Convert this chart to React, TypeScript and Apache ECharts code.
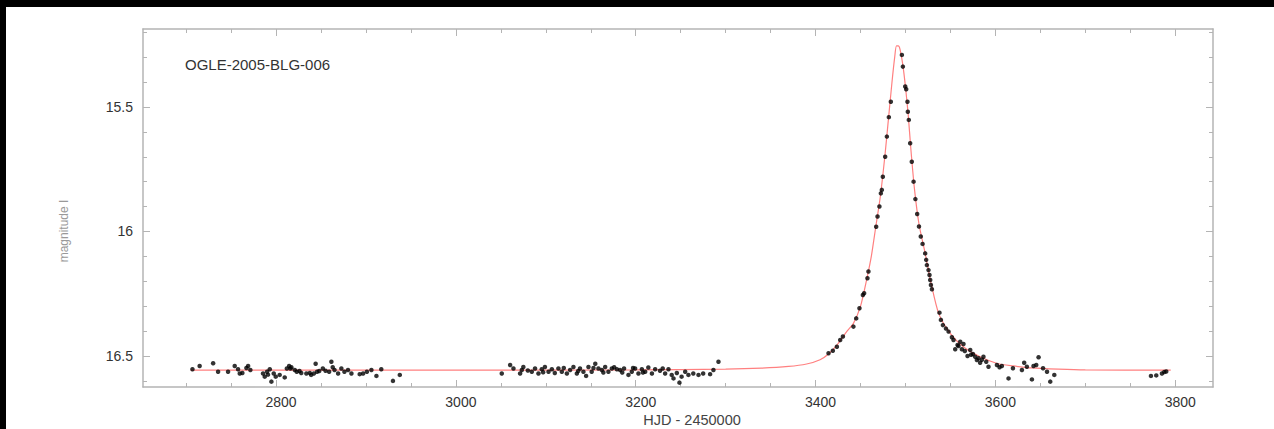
import React, { useEffect, useRef } from "react";
import * as echarts from "echarts";

// Axis ticks / labels
const X_MAJOR = [2800, 3000, 3200, 3400, 3600, 3800];
const X_MINOR = [2700, 2750, 2800, 2850, 2900, 2950, 3000, 3050, 3100, 3150, 3200, 3250, 3300, 3350, 3400, 3450, 3500, 3550, 3600, 3650, 3700, 3750, 3800];
const Y_MAJOR = [15.5, 16, 16.5];
const Y_MINOR = [15.2, 15.3, 15.4, 15.5, 15.6, 15.7, 15.8, 15.9, 16.0, 16.1, 16.2, 16.3, 16.4, 16.5, 16.6];

// Model light curve (red line)
const MODEL_HJD = [2705, 2800, 3000, 3200, 3300, 3340, 3370, 3390, 3405, 3415, 3425, 3435, 3442, 3450, 3457, 3462, 3467, 3472, 3477, 3481, 3485, 3488, 3490, 3492, 3494, 3497, 3500, 3503, 3506, 3510, 3515, 3522, 3528, 3537, 3550, 3565, 3583, 3602, 3620, 3640, 3670, 3700, 3795];
const MODEL_MAG = [16.557, 16.557, 16.557, 16.556, 16.553, 16.549, 16.542, 16.532, 16.515, 16.49, 16.45, 16.4, 16.37, 16.3, 16.19, 16.1, 15.98, 15.86, 15.7, 15.55, 15.4, 15.3, 15.255, 15.255, 15.27, 15.33, 15.42, 15.53, 15.67, 15.83, 15.97, 16.09, 16.2, 16.33, 16.41, 16.465, 16.503, 16.53, 16.54, 16.548, 16.553, 16.556, 16.557];

// Observations (black dots), [HJD-2450000, I mag]
const OBS_2005_EARLY: number[][] = [
  [2707, 16.553], [2715, 16.54], [2730, 16.529], [2735.5, 16.563], [2746.6, 16.563], [2754, 16.54], [2757.7, 16.553],
  [2759.6, 16.57], [2762.5, 16.568], [2768.9, 16.54], [2771.4, 16.556], [2785.5, 16.57], [2787.4, 16.583], [2790, 16.563],
  [2793, 16.553], [2794.8, 16.603], [2797.4, 16.57], [2799.6, 16.583], [2804, 16.576], [2809.6, 16.586], [2812, 16.55],
  [2814.5, 16.54], [2817, 16.545], [2820.8, 16.556], [2823, 16.563], [2828, 16.568], [2833.7, 16.57], [2837.5, 16.568],
  [2839, 16.576], [2842, 16.57], [2844, 16.531], [2845.6, 16.563], [2852, 16.55], [2855, 16.559], [2859, 16.563],
  [2861.5, 16.523], [2865, 16.556], [2869, 16.57], [2872.6, 16.55], [2876, 16.563], [2883.8, 16.57], [2893, 16.573],
  [2896.8, 16.57], [2901, 16.563], [2906, 16.556], [2911.6, 16.58], [2917, 16.553], [2930, 16.6], [2937.6, 16.576],
  [2816, 16.55], [2826, 16.56], [2848, 16.56], [2863, 16.545], [2880, 16.556], [2791, 16.575], [2767, 16.548]
];
const OBS_2005_MID: number[][] = [
  [3051, 16.57], [3060.3, 16.536], [3064, 16.55], [3071.4, 16.57], [3073.3, 16.556], [3075, 16.544], [3084.4, 16.563],
  [3088, 16.55], [3091.8, 16.57], [3095.5, 16.553], [3099, 16.544], [3103, 16.563], [3106.7, 16.553], [3110, 16.568],
  [3114, 16.55], [3117.8, 16.563], [3123.4, 16.57], [3127, 16.556], [3130.7, 16.544], [3134.5, 16.57], [3138, 16.55],
  [3141.8, 16.563], [3144.8, 16.58], [3147.4, 16.544], [3151, 16.563], [3155, 16.531], [3158.5, 16.55], [3162.3, 16.556],
  [3166, 16.544], [3169.6, 16.563], [3173.4, 16.55], [3179, 16.553], [3182.6, 16.556], [3187, 16.55], [3191.9, 16.576],
  [3195.6, 16.563], [3199.3, 16.55], [3203, 16.57], [3206.8, 16.553], [3210.5, 16.563], [3214, 16.546], [3218, 16.57],
  [3221.6, 16.553], [3227, 16.559], [3232.7, 16.57], [3236.4, 16.553], [3240, 16.576], [3242, 16.59], [3245.7, 16.568],
  [3248.6, 16.607], [3251, 16.583], [3255, 16.563], [3258.6, 16.576], [3264, 16.57], [3269.8, 16.576], [3275, 16.57],
  [3282.7, 16.573], [3286.4, 16.556], [3292, 16.523], [3080, 16.558], [3097, 16.565], [3120, 16.548], [3136, 16.56],
  [3153, 16.548], [3164, 16.566], [3176, 16.545], [3185, 16.566], [3197, 16.548], [3208, 16.566], [3230, 16.55]
];
const OBS_PEAK: number[][] = [
  [3414.4, 16.489], [3419.2, 16.479], [3423.7, 16.463], [3427.4, 16.436], [3430.4, 16.422], [3442.1, 16.382],
  [3445.2, 16.349], [3448.8, 16.308], [3452.6, 16.255], [3454, 16.248], [3457.7, 16.188], [3458.8, 16.161],
  [3467.4, 15.981], [3468.9, 15.94], [3471, 15.9], [3472.6, 15.847], [3473.7, 15.833], [3474.8, 15.78],
  [3477.4, 15.7], [3479.3, 15.619], [3481.5, 15.541], [3483.7, 15.479], [3496, 15.291], [3497.1, 15.338],
  [3499.7, 15.418], [3500.8, 15.429], [3502.2, 15.479], [3502.6, 15.519], [3503.7, 15.552], [3505.2, 15.646],
  [3507, 15.72], [3509, 15.8], [3511, 15.87], [3513, 15.93], [3515, 15.98], [3517, 16.02], [3519, 16.05]
];
const OBS_TAIL: number[][] = [
  [3521.9, 16.088], [3523, 16.114], [3523.8, 16.135], [3525.6, 16.155], [3526.7, 16.175], [3527.5, 16.195],
  [3528.3, 16.215], [3529.4, 16.232], [3537.8, 16.326], [3539.4, 16.355], [3541.6, 16.376], [3547.9, 16.402],
  [3551.6, 16.425], [3553.4, 16.436], [3555.3, 16.473], [3557.9, 16.456], [3560.9, 16.443], [3562.7, 16.473],
  [3564.5, 16.452], [3569, 16.5], [3572, 16.476], [3575, 16.492], [3577.5, 16.503], [3579.4, 16.516], [3581.2, 16.509],
  [3583, 16.527], [3586.7, 16.503], [3589.8, 16.523], [3592.3, 16.543], [3601.7, 16.536], [3604.6, 16.545],
  [3607.2, 16.54], [3614.6, 16.59], [3619.5, 16.549], [3629.5, 16.556], [3632, 16.527], [3635, 16.543],
  [3640.6, 16.594], [3642.4, 16.54], [3645.4, 16.536], [3648, 16.505], [3653, 16.549], [3657.4, 16.563],
  [3661, 16.603], [3665.5, 16.576], [3545, 16.39], [3559, 16.46], [3566, 16.48], [3573, 16.495], [3585, 16.515]
];
const OBS_LATE: number[][] = [
  [3773, 16.58], [3778.9, 16.578], [3785.2, 16.57], [3787.8, 16.564], [3790, 16.562]
];

const AXIS_COLOR = "#b4b4b4";
const FONT = "'Liberation Sans', Arial, Helvetica, sans-serif";

export default function App() {
  const ref = useRef<HTMLDivElement>(null);
  useEffect(() => {
    if (!ref.current) return;
    const chart = echarts.init(ref.current, undefined, { renderer: "svg" });
    const model = MODEL_HJD.map((x, i) => [x, MODEL_MAG[i]]);
    const obs = [...OBS_2005_EARLY, ...OBS_2005_MID, ...OBS_PEAK, ...OBS_TAIL, ...OBS_LATE];
    const xBase = { type: "value", min: 2652, max: 3842, gridIndex: 0, splitLine: { show: false } };
    const yBase = { type: "value", min: 15.187, max: 16.6245, inverse: true, gridIndex: 0, splitLine: { show: false } };
    const line = { show: true, lineStyle: { color: AXIS_COLOR, width: 1.5 } };
    const noLine = { show: false };
    const tick = (vals: number[], len: number) => ({
      show: true, inside: true, length: len, customValues: vals, lineStyle: { color: AXIS_COLOR, width: 1 },
    });
    chart.setOption({
      animation: false,
      backgroundColor: "#ffffff",
      grid: { left: 143, top: 29, width: 1070, height: 358, containLabel: false },
      xAxis: [
        {
          ...xBase, position: "bottom", axisLine: line, axisTick: tick(X_MAJOR, 7),
          axisLabel: {
            customValues: X_MAJOR, margin: 8, padding: [0, 0, 0, 10], color: "#333", fontSize: 14, fontFamily: FONT,
            formatter: (v: number) => String(v),
          },
        },
        { ...xBase, position: "bottom", axisLine: noLine, axisTick: tick(X_MINOR, 4), axisLabel: { show: false } },
        { ...xBase, position: "top", axisLine: line, axisTick: tick(X_MAJOR, 7), axisLabel: { show: false } },
        { ...xBase, position: "top", axisLine: noLine, axisTick: tick(X_MINOR, 4), axisLabel: { show: false } },
      ],
      yAxis: [
        {
          ...yBase, position: "left", axisLine: line, axisTick: tick(Y_MAJOR, 7),
          axisLabel: {
            customValues: Y_MAJOR, margin: 10, color: "#333", fontSize: 14, fontFamily: FONT,
            formatter: (v: number) => String(v),
          },
        },
        { ...yBase, position: "left", axisLine: noLine, axisTick: tick(Y_MINOR, 4), axisLabel: { show: false } },
        { ...yBase, position: "right", axisLine: line, axisTick: tick(Y_MAJOR, 7), axisLabel: { show: false } },
        { ...yBase, position: "right", axisLine: noLine, axisTick: tick(Y_MINOR, 4), axisLabel: { show: false } },
      ],
      series: [
        {
          type: "line", data: model, xAxisIndex: 0, yAxisIndex: 0, showSymbol: false, smooth: 0.25,
          lineStyle: { color: "#ff8080", width: 1.2 }, z: 1, silent: true,
        },
        {
          type: "scatter", data: obs, xAxisIndex: 0, yAxisIndex: 0, symbol: "circle", symbolSize: 4.5,
          itemStyle: { color: "#000000" }, z: 2, silent: true,
        },
      ],
      graphic: [
        { type: "rect", shape: { x: 0, y: 0, width: 1274, height: 7 }, style: { fill: "#000" }, z: 100 },
        { type: "rect", shape: { x: 0, y: 0, width: 6, height: 429 }, style: { fill: "#000" }, z: 100 },
        {
          type: "text", x: 185, y: 64,
          style: { text: "OGLE-2005-BLG-006", fill: "#333", font: `15px ${FONT}`, textAlign: "left", textVerticalAlign: "middle" },
        },
        {
          type: "text", x: 692, y: 420,
          style: { text: "HJD - 2450000", fill: "#444", font: `14.5px ${FONT}`, textAlign: "center", textVerticalAlign: "middle" },
        },
        {
          type: "text", x: 64, y: 231, rotation: Math.PI / 2,
          style: { text: "magnitude I", fill: "#999", font: `12px ${FONT}`, textAlign: "center", textVerticalAlign: "middle" },
        },
      ],
    });
    return () => chart.dispose();
  }, []);
  return (
    <div
      ref={ref}
      style={{ position: "fixed", left: 0, top: 0, width: 1274, height: 429, background: "#fff" }}
    />
  );
}
